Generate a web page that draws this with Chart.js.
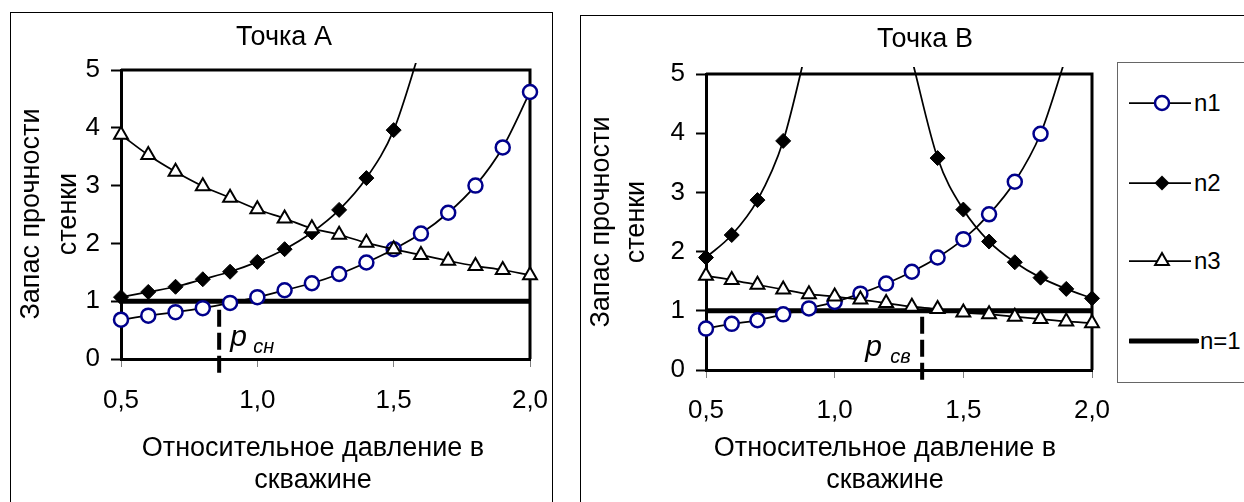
<!DOCTYPE html>
<html lang="ru">
<head>
<meta charset="utf-8">
<title>Запас прочности стенки — точки A и B</title>
<script src="https://cdn.jsdelivr.net/npm/chart.js@4.4.1/dist/chart.umd.min.js"></script>
<style>
  html, body { margin: 0; padding: 0; background: #fff; }
  body {
    position: relative;
    width: 1244px;
    height: 502px;
    overflow: hidden;
    font-family: "Liberation Sans", Arial, sans-serif;
    color: #000;
  }
  .box { position: absolute; box-sizing: border-box; border: 1px solid #000; }
  canvas { position: absolute; top: 0; }
  .txt {
    position: absolute;
    white-space: nowrap;
    font-size: 27px;
    line-height: 27px;
    transform: translate(-50%, -50%);
  }
  .txt.vert { transform: translate(-50%, -50%) rotate(-90deg); }
  #legend { border-color: #666; background: #fff; }
  .leg-item { position: absolute; left: 11px; height: 20px; }
  .leg-item svg { position: absolute; left: 0; top: 0; }
  .leg-item span {
    position: absolute;
    top: 50%;
    transform: translateY(-50%);
    font-size: 24px;
    line-height: 24px;
    white-space: nowrap;
  }
</style>
</head>
<body>

<div class="box" style="left:10px; top:12px; width:543px; height:500px;"></div>
<div class="box" style="left:580px; top:15px; width:700px; height:500px;"></div>

<canvas id="chart-a" width="580" height="502" style="left:0;"></canvas>
<canvas id="chart-b" width="664" height="502" style="left:580px;"></canvas>

<!-- titles -->
<div class="txt" style="left:284px; top:36px;">Точка А</div>
<div class="txt" style="left:925px; top:38px;">Точка В</div>

<div class="txt vert" style="left:30px; top:214px;">Запас прочности</div>
<div class="txt vert" style="left:67px; top:214px;">стенки</div>
<div class="txt vert" style="left:600px; top:222px;">Запас прочности</div>
<div class="txt vert" style="left:635px; top:222px;">стенки</div>

<div class="txt" style="left:313px; top:447px;">Относительное давление в</div>
<div class="txt" style="left:313px; top:479px;">скважине</div>
<div class="txt" style="left:885px; top:447px;">Относительное давление в</div>
<div class="txt" style="left:885px; top:479px;">скважине</div>

<!-- legend -->
<div class="box" id="legend" style="left:1117px; top:62px; width:140px; height:321px;">
  <div class="leg-item" style="top:30px;">
    <svg width="70" height="20"><line x1="0" y1="10" x2="62" y2="10" stroke="#000" stroke-width="1.75"/><circle cx="33" cy="10" r="7" fill="#fff" stroke="#00008C" stroke-width="2.5"/></svg>
    <span style="left:65px;">n1</span>
  </div>
  <div class="leg-item" style="top:110px;">
    <svg width="70" height="20"><line x1="0" y1="10" x2="62" y2="10" stroke="#000" stroke-width="1.75"/><polygon points="33,2.5 40.5,10 33,17.5 25.5,10" fill="#000"/></svg>
    <span style="left:65px;">n2</span>
  </div>
  <div class="leg-item" style="top:188px;">
    <svg width="70" height="20"><line x1="0" y1="10" x2="62" y2="10" stroke="#000" stroke-width="1.75"/><polygon points="33,2 39.9,14 26.1,14" fill="#fff" stroke="#000" stroke-width="2"/></svg>
    <span style="left:65px;">n3</span>
  </div>
  <div class="leg-item" style="top:268px;">
    <svg width="70" height="20"><line x1="1" y1="10" x2="68" y2="10" stroke="#000" stroke-width="5" stroke-linecap="round"/></svg>
    <span style="left:71px;">n=1</span>
  </div>
</div>

<script>
// Запас прочности стенки: две точки (A и B), три критерия n1..n3 и граница n=1.

// --- data ---

const X_VALUES = [0.5, 0.6, 0.7, 0.8, 0.9, 1.0, 1.1, 1.2, 1.3, 1.4, 1.5, 1.6, 1.7, 1.8, 1.9, 2.0];

// Точка А
const A_N1 = [0.68, 0.75, 0.81, 0.88, 0.97, 1.07, 1.19, 1.31, 1.47, 1.67, 1.90, 2.17, 2.53, 3.00, 3.66, 4.62];
const A_N2 = [1.07, 1.16, 1.25, 1.38, 1.51, 1.68, 1.90, 2.19, 2.58, 3.13, 3.96, 5.4, null, null, null, null];
const A_N3 = [3.88, 3.53, 3.24, 2.99, 2.79, 2.59, 2.43, 2.26, 2.15, 2.01, 1.90, 1.80, 1.70, 1.61, 1.54, 1.45];

// Точка В (n2 has a break where it goes off the scale)
const B_N1 = [0.70, 0.78, 0.84, 0.94, 1.04, 1.15, 1.29, 1.46, 1.66, 1.90, 2.21, 2.63, 3.18, 3.99, 5.3, null];
const B_N2 = [1.90, 2.28, 2.87, 3.87, 5.6, null, null, null, 5.25, 3.58, 2.71, 2.17, 1.82, 1.56, 1.37, 1.21];
const B_N3 = [1.59, 1.52, 1.44, 1.36, 1.28, 1.24, 1.19, 1.13, 1.07, 1.03, 0.97, 0.94, 0.90, 0.86, 0.82, 0.79];

// n = 1 limit line
const LIMIT_X = [0.5, 2.0];
const LIMIT_Y = [1, 1];

// critical pressures and the span of their dashed markers
const P_CH = 0.86;
const P_CH_SPAN = [0.85, -0.26];
const P_SV = 1.34;
const P_SV_SPAN = [0.9, -0.22];

const X_TICK_LABELS = ["0,5", "1,0", "1,5", "2,0"];
const Y_TICK_LABELS = ["0", "1", "2", "3", "4", "5"];
const Y_MAX = 5;

// --- styles ---

const FONT = '"Liberation Sans", Arial, sans-serif';
const N1_BLUE = "#00008C";

Chart.defaults.font.family = FONT;
Chart.defaults.color = "#000";

// --- helpers ---

function series_points(values) {
  return X_VALUES.map(function (x, i) {
    return { x: x, y: values[i] };
  });
}

// markers above the axis maximum are not shown, only the curve runs out
function marker_radius(r) {
  return function (ctx) {
    const raw = ctx.raw;
    if (raw && raw.y !== null && raw.y > Y_MAX) {
      return 0;
    }
    return r;
  };
}

const CURVE_CLIP = { left: 12, top: 7, right: 12, bottom: 12 };

function chart_datasets(n1, n2, n3, pValue, pSpan) {
  return [
    {
      label: "n1",
      data: series_points(n1),
      borderColor: "#000",
      borderWidth: 1.75,
      pointStyle: "circle",
      pointRadius: marker_radius(7),
      pointBorderWidth: 2.5,
      pointBorderColor: N1_BLUE,
      pointBackgroundColor: "#fff",
      cubicInterpolationMode: "monotone",
      clip: CURVE_CLIP,
      order: 3,
    },
    {
      label: "n2",
      data: series_points(n2),
      borderColor: "#000",
      borderWidth: 1.75,
      pointStyle: "rectRot",
      pointRadius: marker_radius(7.5),
      pointBorderWidth: 1,
      pointBorderColor: "#000",
      pointBackgroundColor: "#000",
      cubicInterpolationMode: "monotone",
      spanGaps: false,
      clip: CURVE_CLIP,
      order: 2,
    },
    {
      label: "n3",
      data: series_points(n3),
      borderColor: "#000",
      borderWidth: 1.75,
      pointStyle: "triangle",
      pointRadius: marker_radius(8),
      pointBorderWidth: 2,
      pointBorderColor: "#000",
      pointBackgroundColor: "#fff",
      cubicInterpolationMode: "monotone",
      clip: CURVE_CLIP,
      order: 1,
    },
    {
      label: "n=1",
      data: LIMIT_X.map(function (x, i) {
        return { x: x, y: LIMIT_Y[i] };
      }),
      borderColor: "#000",
      borderWidth: 5,
      pointRadius: 0,
      clip: false,
      order: 4,
    },
    {
      label: "p",
      data: pSpan.map(function (y) {
        return { x: pValue, y: y };
      }),
      borderColor: "#000",
      borderWidth: 4,
      borderDash: [17, 6],
      pointRadius: 0,
      clip: false,
      order: 5,
    },
  ];
}

// --- plugins ---

// top and right sides of the plot frame (left/bottom are the axes)
const plotFrame = {
  id: "plotFrame",
  beforeDatasetsDraw(chart) {
    const a = chart.chartArea;
    const ctx = chart.ctx;
    ctx.save();
    ctx.strokeStyle = "#000";
    ctx.lineWidth = 3;
    ctx.beginPath();
    ctx.moveTo(a.left, a.top);
    ctx.lineTo(a.right, a.top);
    ctx.lineTo(a.right, a.bottom);
    ctx.stroke();
    ctx.restore();
  },
};

// italic "p" with subscript next to the dashed marker
const pressureLabel = {
  id: "pressureLabel",
  afterDatasetsDraw(chart, args, opts) {
    if (!opts || !opts.sub) return;
    const px = chart.scales.x.getPixelForValue(opts.value);
    const y0 = chart.scales.y.getPixelForValue(0);
    const ctx = chart.ctx;
    ctx.save();
    ctx.fillStyle = "#000";
    ctx.textAlign = "left";
    ctx.textBaseline = "alphabetic";
    ctx.font = "italic 30px " + FONT;
    ctx.fillText("p", px + opts.dx, y0 + opts.dy);
    ctx.font = "italic 20px " + FONT;
    ctx.fillText(opts.sub, px + opts.subDx, y0 + opts.subDy);
    ctx.restore();
  },
};

// --- chart ---

function chart_options(geom, label) {
  return {
    responsive: false,
    animation: false,
    devicePixelRatio: 1,
    events: [],
    layout: {
      padding: { top: geom.top, right: geom.right, bottom: 0, left: 0 },
    },
    plugins: {
      legend: { display: false },
      title: { display: false },
      tooltip: { enabled: false },
      pressureLabel: label,
    },
    scales: {
      x: {
        type: "linear",
        min: 0.5,
        max: 2.0,
        afterFit: function (scale) {
          scale.height = geom.xHeight;
        },
        border: { display: true, color: "#000", width: 3 },
        grid: {
          display: true,
          drawOnChartArea: false,
          drawTicks: true,
          tickLength: 8,
          tickColor: "#808080",
          tickWidth: 1,
        },
        ticks: {
          stepSize: 0.5,
          padding: geom.xPad,
          autoSkip: false,
          maxRotation: 0,
          font: { size: 26 },
          callback: function (value, index) {
            return X_TICK_LABELS[index];
          },
        },
      },
      y: {
        type: "linear",
        min: 0,
        max: Y_MAX,
        afterFit: function (scale) {
          scale.width = geom.yWidth;
        },
        border: { display: true, color: "#000", width: 3 },
        grid: {
          display: true,
          drawOnChartArea: false,
          drawTicks: true,
          tickLength: 10,
          tickColor: "#000",
          tickWidth: 2,
        },
        ticks: {
          stepSize: 1,
          padding: 11,
          font: { size: 26 },
          callback: function (value, index) {
            return Y_TICK_LABELS[index];
          },
        },
      },
    },
  };
}

function chart_build(canvasId, datasets, geom, label) {
  return new Chart(document.getElementById(canvasId), {
    type: "line",
    data: { datasets: datasets },
    options: chart_options(geom, label),
    plugins: [plotFrame, pressureLabel],
  });
}

chart_build(
  "chart-a",
  chart_datasets(A_N1, A_N2, A_N3, P_CH, P_CH_SPAN),
  { top: 70, right: 50, yWidth: 121, xHeight: 143, xPad: 18 },
  { value: P_CH, sub: "сн", dx: 11, dy: -13.4, subDx: 34, subDy: -6 }
);

chart_build(
  "chart-b",
  chart_datasets(B_N1, B_N2, B_N3, P_SV, P_SV_SPAN),
  { top: 74, right: 152, yWidth: 126, xHeight: 132, xPad: 17 },
  { value: P_SV, sub: "св", dx: -57, dy: -14, subDx: -32, subDy: -7 }
);
</script>
</body>
</html>
